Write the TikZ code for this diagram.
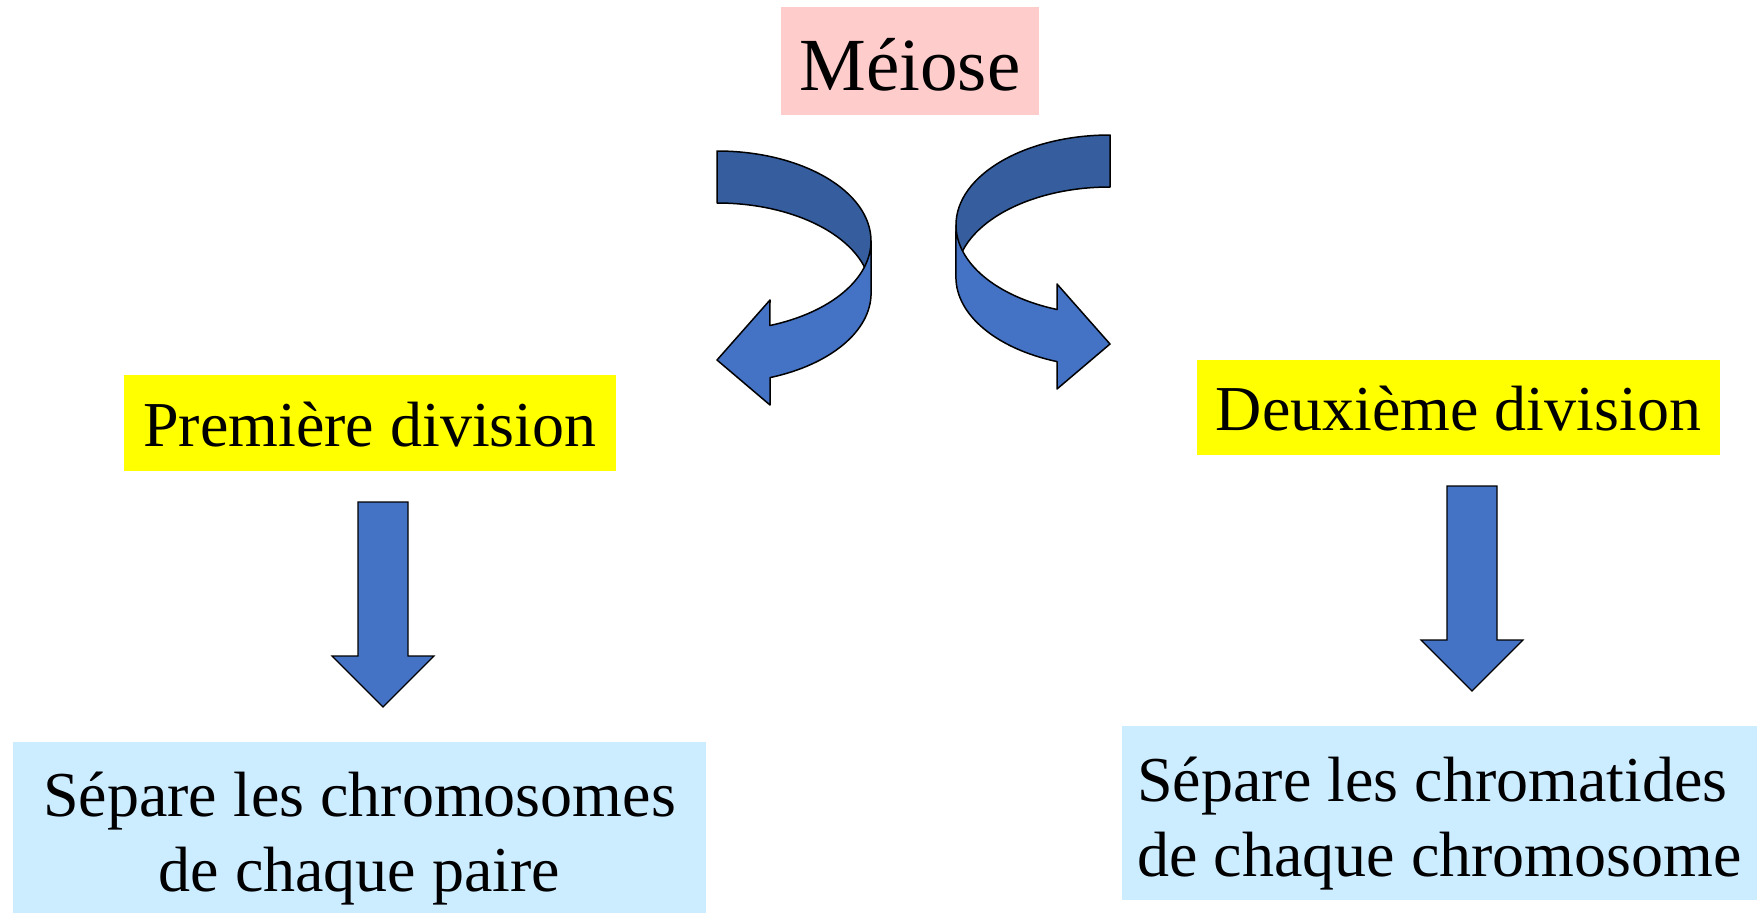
\documentclass[tikz,border=0pt]{standalone}
\usepackage{fontspec}
\setmainfont{Liberation Serif}
\usetikzlibrary{calc}

\definecolor{meiosepink}{RGB}{255,204,204}
\definecolor{divyellow}{RGB}{255,255,0}
\definecolor{resultblue}{RGB}{204,236,255}
\definecolor{arrowblue}{RGB}{68,114,196}
\definecolor{arrowdark}{RGB}{54,94,159}

\newcommand{\divfont}{\fontsize{64}{75}\selectfont}

\tikzset{
  box/.style={inner sep=0pt,align=center,font=\divfont},
  ribbonback/.style={fill=arrowdark,draw=black,line width=1.5pt,line join=round},
  ribbonfront/.style={fill=arrowblue,draw=black,line width=1.5pt,line join=round},
  blockarrow/.style={fill=arrowblue,draw=black,line width=1.2pt},
  downarrow/.pic={
    \filldraw[blockarrow] (-25,0) -- (25,0) -- (25,154) -- (51,154) -- (0,205)
      -- (-51,154) -- (-25,154) -- cycle;
  },
  turnarrow/.pic={
    \filldraw[ribbonback] (0,-90) arc[start angle=-90,end angle=0,x radius=154,y radius=90]
      -- (154,52) arc[start angle=0,end angle=-90,x radius=154,y radius=90] -- cycle;
    \filldraw[ribbonfront] (154,0) arc[start angle=0,end angle=69.9,x radius=154,y radius=90]
      -- (53,59) -- (0,119) -- (53,164) -- (53,136.6)
      arc[start angle=69.9,end angle=0,x radius=154,y radius=90] -- cycle;
  }
}

\begin{document}
\begin{tikzpicture}[x=1pt,y=-1pt]
\useasboundingbox (0,0) rectangle (1757,913);

% ---------------- title ----------------
\node[box,fill=meiosepink,minimum width=258pt,minimum height=108pt,
  text height=83pt,text depth=25pt,font=\fontsize{75}{75}\selectfont] (meiose) at (910,61) {Méiose};

% ---------------- turning arrows ----------------
\pic at (717,241) {turnarrow};
\pic[xscale=-1] at (1110,225) {turnarrow};

% ---------------- the two divisions ----------------
\node[box,fill=divyellow,minimum width=492pt,minimum height=96pt,
  text height=71pt,text depth=25pt] (premiere) at (370,423) {Première division};
\node[box,fill=divyellow,minimum width=523pt,minimum height=95pt,
  text height=70pt,text depth=25pt] (deuxieme) at (1458.5,407.5) {Deuxième division};

\pic at (383,502) {downarrow};
\pic at (1472,486) {downarrow};

% ---------------- results ----------------
\node[box,fill=resultblue,minimum width=693pt,minimum height=171pt] (separe1) at (359.5,827.5)
  {\rule{0pt}{66pt}Sépare les chromosomes\\de chaque paire};
\node[box,fill=resultblue,minimum width=635pt,minimum height=174pt,align=left] (separe2) at (1439.5,813)
  {\rule{0pt}{66pt}Sépare les chromatides\\de chaque chromosome};

\end{tikzpicture}
\end{document}
